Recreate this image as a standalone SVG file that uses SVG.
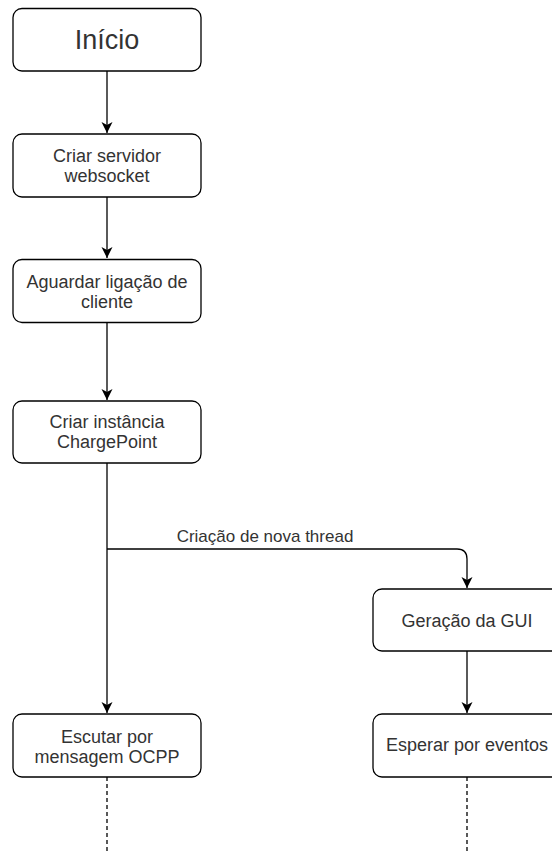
<svg xmlns="http://www.w3.org/2000/svg" width="552" height="852" viewBox="0 0 552 852">
<style>
.box{fill:#fff;stroke:#000;stroke-width:1.3}
.t{font-family:"Liberation Sans",Arial,sans-serif;font-size:18px;fill:#333;text-anchor:middle}
.big{font-size:27px}
.lbl{font-size:17px}
.c{fill:none;stroke:#000;stroke-width:1.3}
.d{fill:none;stroke:#000;stroke-width:1.3;stroke-dasharray:4 3}
</style>
<defs>
<marker id="ah" viewBox="0 0 12 12" refX="11" refY="6" markerWidth="12" markerHeight="12" markerUnits="userSpaceOnUse" orient="auto">
<path d="M0,0.5 L11,6 L0,11.5 L3,6 Z" fill="#000"/>
</marker>
</defs>
<g id="connectors">
<path class="c" d="M107,71 V133" marker-end="url(#ah)"/>
<path class="c" d="M107,197 V258" marker-end="url(#ah)"/>
<path class="c" d="M107,323 V400" marker-end="url(#ah)"/>
<path class="c" d="M107,463 V713" marker-end="url(#ah)"/>
<path class="c" d="M107,549 H457 Q467,549 467,559 V588" marker-end="url(#ah)"/>
<path class="c" d="M467,651 V713" marker-end="url(#ah)"/>
<path class="d" d="M107,777 V852"/>
<path class="d" d="M467,777 V852"/>
<text class="t lbl" x="265" y="542">Criação de nova thread</text>
</g>
<g id="inicio">
<rect class="box" x="13" y="8.5" width="188" height="62.5" rx="9"/>
<text class="t big" x="107" y="49">Início</text>
</g>
<g id="criar-servidor">
<rect class="box" x="13" y="134" width="188" height="63" rx="9"/>
<text class="t" x="107" y="162">Criar servidor</text>
<text class="t" x="107" y="182">websocket</text>
</g>
<g id="aguardar">
<rect class="box" x="13" y="259.5" width="188" height="63" rx="9"/>
<text class="t" x="107" y="288">Aguardar ligação de</text>
<text class="t" x="107" y="308">cliente</text>
</g>
<g id="criar-instancia">
<rect class="box" x="13" y="401" width="188" height="62" rx="9"/>
<text class="t" x="107" y="428">Criar instância</text>
<text class="t" x="107" y="448">ChargePoint</text>
</g>
<g id="escutar">
<rect class="box" x="13" y="714" width="188" height="63" rx="9"/>
<text class="t" x="107" y="743">Escutar por</text>
<text class="t" x="107" y="763">mensagem OCPP</text>
</g>
<g id="geracao">
<rect class="box" x="373" y="589" width="188" height="62" rx="9"/>
<text class="t" x="467" y="627">Geração da GUI</text>
</g>
<g id="esperar">
<rect class="box" x="373" y="714" width="188" height="63" rx="9"/>
<text class="t" x="467" y="751">Esperar por eventos</text>
</g>
</svg>
